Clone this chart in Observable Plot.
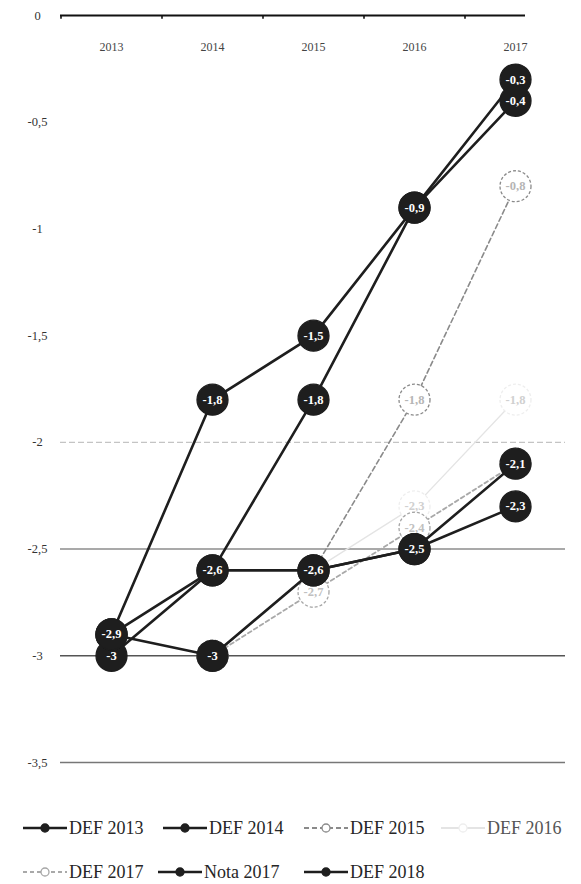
<!DOCTYPE html>
<html><head><meta charset="utf-8">
<script src="https://cdn.jsdelivr.net/npm/d3@7"></script>
<script src="https://cdn.jsdelivr.net/npm/@observablehq/plot@0.6"></script>
<style>
body{margin:0;background:#fff;font-family:"Liberation Serif",serif;}
#chart svg{display:block;}
#legend{position:relative;width:581px;height:94px;}
.item{position:absolute;display:flex;align-items:center;height:20px;font-size:18px;color:#262626;font-family:"Liberation Serif",serif;white-space:nowrap;}
.item svg{display:block;margin-right:1px;}
</style></head><body>
<div id="chart"></div>
<div id="legend"></div>
<script>
const years = [2013, 2014, 2015, 2016, 2017];
const seriesNames = ["DEF 2013", "DEF 2014", "DEF 2015", "DEF 2016", "DEF 2017", "Nota 2017", "DEF 2018"];
const def2013  = [-2.9, -1.8, -1.5, -0.9, -0.4];
const def2014  = [-3.0, -2.6, -1.8, -0.9, -0.3];
const def2015  = [null, -3.0, -2.6, -1.8, -0.8];
const def2016  = [null, null, -2.6, -2.3, -1.8];
const def2017  = [null, -3.0, -2.7, -2.4, -2.1];
const nota2017 = [-2.9, -2.6, -2.6, -2.5, -2.1];
const def2018  = [-2.9, -3.0, -2.6, -2.5, -2.3];
const yTicks = [0, -0.5, -1, -1.5, -2, -2.5, -3, -3.5];
const gridValues = [-2, -2.5, -3, -3.5];

const seriesValues = {
  "DEF 2013": def2013, "DEF 2014": def2014, "DEF 2015": def2015, "DEF 2016": def2016,
  "DEF 2017": def2017, "Nota 2017": nota2017, "DEF 2018": def2018
};

// styles per series
const styles = {
  "DEF 2013":  {stroke: "#1e1e1e", width: 2.6, dash: null, fill: "#1e1e1e", dot: "#1e1e1e", dotDash: null, label: "#fff"},
  "DEF 2014":  {stroke: "#1e1e1e", width: 2.6, dash: null, fill: "#1e1e1e", dot: "#1e1e1e", dotDash: null, label: "#fff"},
  "DEF 2015":  {stroke: "#8a8a8a", width: 1.6, dash: "5,3", fill: "#fff", dot: "#8a8a8a", dotDash: "3,2", label: "#b5b5b5"},
  "DEF 2016":  {stroke: "#e4e4e4", width: 1.4, dash: null, fill: "#fff", dot: "#eeeeee", dotDash: "3,2", label: "#d0d0d0"},
  "DEF 2017":  {stroke: "#a9a9a9", width: 1.8, dash: "4,3", fill: "#fff", dot: "#a6a6a6", dotDash: "3,2", label: "#c0c0c0"},
  "Nota 2017": {stroke: "#1e1e1e", width: 2.6, dash: null, fill: "#1e1e1e", dot: "#1e1e1e", dotDash: null, label: "#fff"},
  "DEF 2018":  {stroke: "#1e1e1e", width: 2.6, dash: null, fill: "#1e1e1e", dot: "#1e1e1e", dotDash: null, label: "#fff"}
};

// draw order (bottom to top)
const faintGroup = ["DEF 2016", "DEF 2017", "DEF 2015"];
const darkGroup = ["DEF 2014", "Nota 2017", "DEF 2013", "DEF 2018"];

const rows = [];
for (const s of seriesNames) {
  seriesValues[s].forEach((v, i) => { if (v !== null) rows.push({series: s, year: years[i], value: v}); });
}
const fmt = v => v === 0 ? "0" : String(v).replace(".", ",");

function groupMarks(group) {
  const marks = [];
  for (const s of group) {
    const st = styles[s];
    const data = rows.filter(r => r.series === s);
    marks.push(Plot.line(data, {x: "year", y: "value", stroke: st.stroke, strokeWidth: st.width, strokeDasharray: st.dash}));
  }
  for (const s of group) {
    const st = styles[s];
    const data = rows.filter(r => r.series === s);
    marks.push(Plot.dot(data, {x: "year", y: "value", r: 15.5, fill: st.fill, stroke: st.dot, strokeWidth: 1.3, strokeDasharray: st.dotDash}));
    marks.push(Plot.text(data, {x: "year", y: "value", text: d => fmt(d.value), fill: st.label, fontSize: 12.5, fontWeight: "bold", fontFamily: "Liberation Serif, serif"}));
  }
  return marks;
}

const chart = Plot.plot({
  width: 581,
  height: 790,
  marginTop: 15,
  marginLeft: 60,
  marginRight: 16,
  marginBottom: 28,
  x: {type: "point", domain: years, padding: 0.5, axis: null},
  y: {domain: [-3.5, 0], axis: null},
  style: {fontFamily: "Liberation Serif, serif", background: "white"},
  marks: [
    Plot.ruleY([gridValues[0]], {stroke: "#c4c4c4", strokeWidth: 1.2, strokeDasharray: "6,3"}),
    Plot.ruleY([gridValues[1]], {stroke: "#8c8c8c", strokeWidth: 1.4}),
    Plot.ruleY([gridValues[2]], {stroke: "#555", strokeWidth: 1.6}),
    Plot.ruleY([gridValues[3]], {stroke: "#777", strokeWidth: 1.6}),
    Plot.ruleY([0], {stroke: "#111", strokeWidth: 2.2, insetRight: 40}),
    Plot.ruleX(years, {x: d => d, y1: 0, y2: -0.018, dx: -50.5, stroke: "#111", strokeWidth: 1.6}),
    Plot.axisY(yTicks, {tickSize: 0, tickPadding: 23, textAnchor: "middle", tickFormat: fmt, fontSize: 12.5, fill: "#333", label: null}),
    Plot.text(years, {x: d => d, frameAnchor: "top", dy: 27, text: d => String(d), fontSize: 12, fill: "#444"}),
    ...groupMarks(faintGroup),
    ...groupMarks(darkGroup)
  ]
});
document.getElementById("chart").appendChild(chart);

// legend
const legendPos = {
  "DEF 2013": [22, 828], "DEF 2014": [162, 828], "DEF 2015": [303, 828], "DEF 2016": [440, 828],
  "DEF 2017": [22, 872], "Nota 2017": [157, 872], "DEF 2018": [303, 872]
};
const legend = document.getElementById("legend");
for (const s of seriesNames) {
  const st = styles[s];
  const [lx, ly] = legendPos[s];
  const div = document.createElement("div");
  div.className = "item";
  div.style.left = lx + "px";
  div.style.top = (ly - 790 - 10) + "px";
  if (s === "DEF 2016") div.style.color = "#555";
  const sw = d3.create("svg").attr("width", 46).attr("height", 12);
  sw.append("line").attr("x1", 1).attr("x2", 45).attr("y1", 6).attr("y2", 6)
    .attr("stroke", st.stroke).attr("stroke-width", Math.max(st.width, 2))
    .attr("stroke-dasharray", st.dash);
  sw.append("circle").attr("cx", 23).attr("cy", 6).attr("r", 4)
    .attr("fill", st.fill).attr("stroke", st.dot).attr("stroke-width", 1.3);
  div.appendChild(sw.node());
  const t = document.createElement("span");
  t.textContent = s;
  div.appendChild(t);
  legend.appendChild(div);
}
</script>
</body></html>
